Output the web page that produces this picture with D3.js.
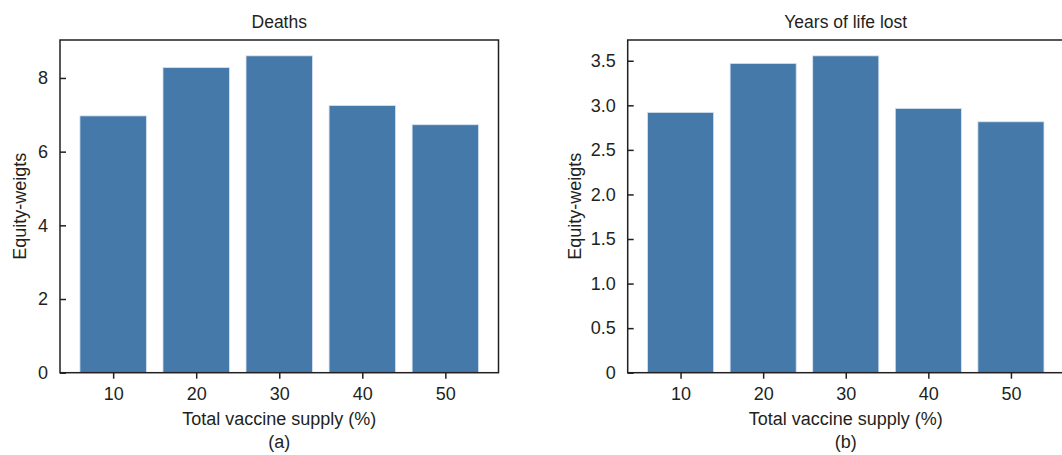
<!DOCTYPE html>
<html>
<head>
<meta charset="utf-8">
<script src="https://cdn.jsdelivr.net/npm/d3@7"></script>
<style>
  body { margin: 0; background: #fff; }
  svg { display: block; font-family: "Liberation Sans", Arial, sans-serif; }
</style>
</head>
<body>
<script>
const supply = [10, 20, 30, 40, 50];
const deaths = [6.97, 8.28, 8.60, 7.25, 6.73];
const yll = [2.92, 3.47, 3.555, 2.965, 2.815];
const deathTicks = [0, 2, 4, 6, 8];
const yllTicks = [0, 0.5, 1.0, 1.5, 2.0, 2.5, 3.0, 3.5];

const width = 1062;
const height = 455;
const ink = '#231f20';
const barColour = '#4579aa';

const svg = d3.select('body')
              .append('svg')
                .attr('width', width)
                .attr('height', height);

function drawPanel(opts) {
    const { left, right, top, bottom, values, ticks, fmt, title, tag } = opts;

    const xScale = d3.scaleLinear()
                     .domain([3.6, 56.4])
                     .range([left, right]);

    const yScale = d3.scaleLinear()
                     .domain([0, d3.max(values) * 1.05])
                     .range([bottom, top]);

    const cx = (left + right) / 2;

    // bars
    svg.append('g')
       .selectAll('rect')
       .data(values)
       .enter()
         .append('rect')
           .attr('x', (d, i) => xScale(supply[i] - 4))
           .attr('y', (d) => yScale(d))
           .attr('width', (d, i) => xScale(supply[i] + 4) - xScale(supply[i] - 4))
           .attr('height', (d) => bottom - yScale(d))
           .attr('fill', barColour)
           .attr('stroke', '#d6e2ef')
           .attr('stroke-width', 0.8);

    // x axis, ticks outward
    const xAxis = svg.append('g')
                     .attr('transform', `translate(0, ${bottom})`)
                     .call(d3.axisBottom(xScale)
                             .tickValues(supply)
                             .tickSizeInner(6)
                             .tickSizeOuter(0)
                             .tickPadding(8.5));

    // y axis, ticks inward
    const yAxis = svg.append('g')
                     .attr('transform', `translate(${left}, 0)`)
                     .call(d3.axisLeft(yScale)
                             .tickValues(ticks)
                             .tickFormat(fmt)
                             .tickSizeInner(-6)
                             .tickSizeOuter(0)
                             .tickPadding(12));

    [xAxis, yAxis].forEach((ax) => {
        ax.select('.domain').remove();
        ax.selectAll('line').attr('stroke', ink).attr('stroke-width', 1.5);
        ax.selectAll('text')
          .attr('fill', ink)
          .style('font-size', '18px')
          .style('font-family', '"Liberation Sans", Arial, sans-serif');
    });

    // frame
    svg.append('rect')
       .attr('x', left)
       .attr('y', top)
       .attr('width', right - left)
       .attr('height', bottom - top)
       .attr('fill', 'none')
       .attr('stroke', ink)
       .attr('stroke-width', 1.5);

    // title
    svg.append('text')
       .attr('x', cx)
       .attr('y', 27.5)
       .attr('text-anchor', 'middle')
       .attr('fill', ink)
       .style('font-size', '17.5px')
       .text(title);

    // x label
    svg.append('text')
       .attr('x', cx)
       .attr('y', 424.5)
       .attr('text-anchor', 'middle')
       .attr('fill', ink)
       .style('font-size', '18px')
       .text('Total vaccine supply (%)');

    // panel tag
    svg.append('text')
       .attr('x', cx)
       .attr('y', 448)
       .attr('text-anchor', 'middle')
       .attr('fill', ink)
       .style('font-size', '18px')
       .text(tag);

    // y label
    svg.append('text')
       .attr('transform', `translate(${opts.yLabelX}, ${(top + bottom) / 2}) rotate(-90)`)
       .attr('text-anchor', 'middle')
       .attr('fill', ink)
       .style('font-size', '18px')
       .text('Equity-weigts');
}

drawPanel({
    left: 60, right: 498.5, top: 40, bottom: 372.7,
    values: deaths, ticks: deathTicks,
    fmt: d3.format('d'),
    title: 'Deaths', tag: '(a)', yLabelX: 25.5
});

drawPanel({
    left: 627.7, right: 1063.8, top: 40, bottom: 372.7,
    values: yll, ticks: yllTicks,
    fmt: (d) => d === 0 ? '0' : d3.format('.1f')(d),
    title: 'Years of life lost', tag: '(b)', yLabelX: 580.5
});
</script>
</body>
</html>
